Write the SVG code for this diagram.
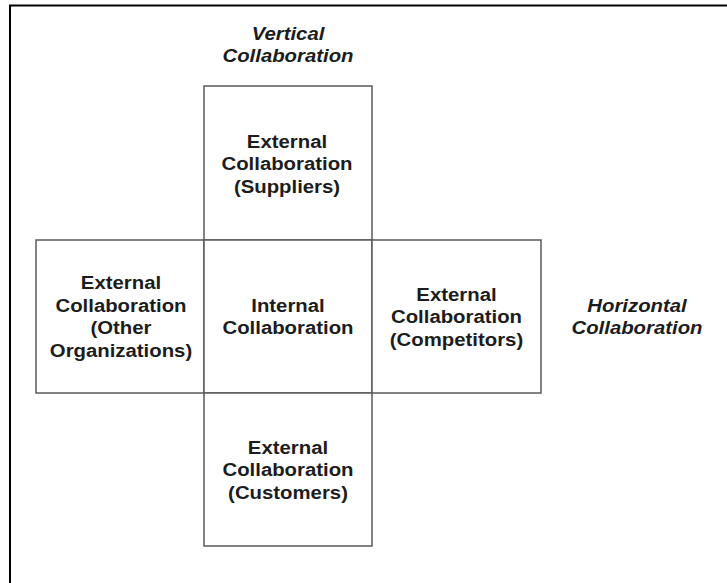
<svg xmlns="http://www.w3.org/2000/svg" width="727" height="583" viewBox="0 0 727 583">
  <style>
    .cell { fill: #ffffff; stroke: #5a5a5a; stroke-width: 1.5; }
    .lbl { font-family: "Liberation Sans", Arial, Helvetica, sans-serif; font-size: 18.5px; font-weight: bold; fill: #1c1c1c; text-anchor: middle; }
    .axis { font-style: italic; }
  </style>
  <rect x="0" y="0" width="727" height="583" fill="#ffffff"/>
  <!-- frame: only top and left edges are drawn -->
  <path d="M10,583 V5.5 H727" fill="none" stroke="#000000" stroke-width="2"/>

  <!-- axis captions -->
  <g id="vertical-caption" transform="translate(288,0) scale(1.1,1)">
    <text class="lbl axis" x="0" y="40">Vertical</text>
    <text class="lbl axis" x="0" y="62.5">Collaboration</text>
  </g>
  <g id="horizontal-caption" transform="translate(637,0) scale(1.1,1)">
    <text class="lbl axis" x="0" y="311.9">Horizontal</text>
    <text class="lbl axis" x="0" y="334.4">Collaboration</text>
  </g>

  <g id="suppliers">
    <rect class="cell" x="204" y="86" width="168" height="154"/>
    <g transform="translate(287,0) scale(1.1,1)">
      <text class="lbl" x="0" y="147.6">External</text>
      <text class="lbl" x="0" y="170.1">Collaboration</text>
      <text class="lbl" x="0" y="192.6">(Suppliers)</text>
    </g>
  </g>

  <g id="other-organizations">
    <rect class="cell" x="36" y="240" width="168" height="153"/>
    <g transform="translate(121,0) scale(1.1,1)">
      <text class="lbl" x="0" y="289.4">External</text>
      <text class="lbl" x="0" y="311.9">Collaboration</text>
      <text class="lbl" x="0" y="334.4">(Other</text>
      <text class="lbl" x="0" y="356.9">Organizations)</text>
    </g>
  </g>

  <g id="internal">
    <rect class="cell" x="204" y="240" width="168" height="153"/>
    <g transform="translate(288,0) scale(1.1,1)">
      <text class="lbl" x="0" y="311.9">Internal</text>
      <text class="lbl" x="0" y="334.4">Collaboration</text>
    </g>
  </g>

  <g id="competitors">
    <rect class="cell" x="372" y="240" width="169" height="153"/>
    <g transform="translate(456.5,0) scale(1.1,1)">
      <text class="lbl" x="0" y="300.6">External</text>
      <text class="lbl" x="0" y="323.1">Collaboration</text>
      <text class="lbl" x="0" y="345.6">(Competitors)</text>
    </g>
  </g>

  <g id="customers">
    <rect class="cell" x="204" y="393" width="168" height="153"/>
    <g transform="translate(288,0) scale(1.1,1)">
      <text class="lbl" x="0" y="454">External</text>
      <text class="lbl" x="0" y="476.5">Collaboration</text>
      <text class="lbl" x="0" y="499">(Customers)</text>
    </g>
  </g>

  <g id="connectors"/>
</svg>
